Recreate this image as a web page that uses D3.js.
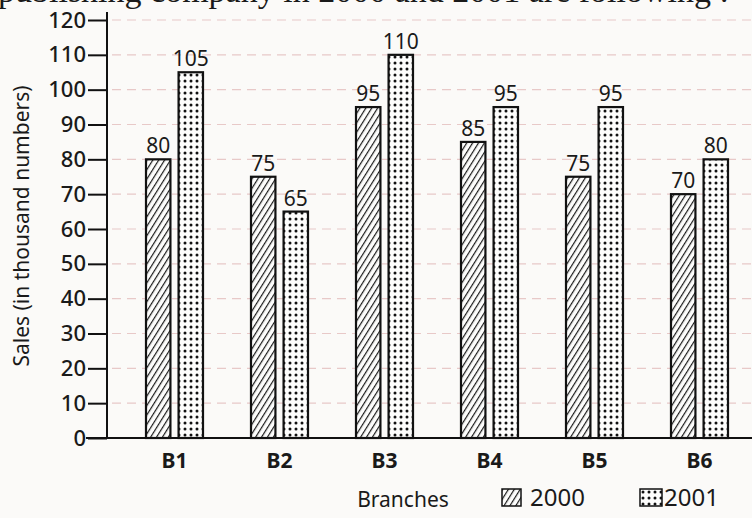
<!DOCTYPE html>
<html>
<head>
<meta charset="utf-8">
<script src="https://cdn.jsdelivr.net/npm/d3@7"></script>
<style>
  body { margin: 0; background: #fbfaf8; }
  svg { display: block; }
</style>
</head>
<body>
<div id="chart"></div>
<script>
// data
const branches = ["B1", "B2", "B3", "B4", "B5", "B6"];
const years = ["2000", "2001"];
const sales2000 = [80, 75, 95, 85, 75, 70];
const sales2001 = [105, 65, 110, 95, 95, 80];
const yTicks = [0, 10, 20, 30, 40, 50, 60, 70, 80, 90, 100, 110, 120];

const dataset = branches.map((b, i) => ({
  branch: b,
  values: [
    { year: "2000", value: sales2000[i] },
    { year: "2001", value: sales2001[i] },
  ],
}));

const drawChart = () => {
  let dimensions = {
    width: 752,
    height: 518,
    axisX: 107,
    baseY: 438,
    topY: 20,
  };

  const svg = d3
    .select("#chart")
    .append("svg")
    .attr("width", dimensions.width)
    .attr("height", dimensions.height);

  // patterns
  const defs = svg.append("defs");
  const hatch = defs
    .append("pattern")
    .attr("id", "hatch")
    .attr("patternUnits", "userSpaceOnUse")
    .attr("width", 5)
    .attr("height", 5)
    .attr("patternTransform", "rotate(32)");
  hatch.append("rect").attr("width", 5).attr("height", 5).attr("fill", "#fdfdfc");
  hatch
    .append("line")
    .attr("x1", 0)
    .attr("y1", 0)
    .attr("x2", 0)
    .attr("y2", 5)
    .attr("stroke", "#1a1a1a")
    .attr("stroke-width", 2.4);

  const dots = defs
    .append("pattern")
    .attr("id", "dots")
    .attr("patternUnits", "userSpaceOnUse")
    .attr("width", 6)
    .attr("height", 6);
  dots.append("rect").attr("width", 6).attr("height", 6).attr("fill", "#fdfdfc");
  dots
    .append("circle")
    .attr("cx", 3)
    .attr("cy", 3)
    .attr("r", 1.5)
    .attr("fill", "#111");

  const fillFor = { "2000": "url(#hatch)", "2001": "url(#dots)" };

  // clipped heading from the page
  svg
    .append("text")
    .attr("x", -2)
    .attr("y", 2)
    .attr("font-family", "Liberation Serif")
    .attr("font-size", 34)
    .attr("fill", "#1a1a1a")
    .text("publishing company in 2000 and 2001 are following :");

  // Scales
  const yScale = d3
    .scaleLinear()
    .domain([0, 120])
    .range([dimensions.baseY, dimensions.topY]);

  const xScale = d3
    .scaleBand()
    .domain(branches)
    .range([122, 752])
    .padding(0);

  const groupWidth = 57;
  const xInner = d3
    .scaleBand()
    .domain(years)
    .range([0, groupWidth])
    .paddingInner(0.25);

  // faint grid lines
  svg
    .append("g")
    .selectAll("line")
    .data(yTicks.filter((d) => d > 0))
    .join("line")
    .attr("x1", dimensions.axisX + 5)
    .attr("x2", dimensions.width)
    .attr("y1", (d) => yScale(d))
    .attr("y2", (d) => yScale(d))
    .attr("stroke", "#d69a9a")
    .attr("stroke-width", 1.2)
    .attr("stroke-dasharray", "9,6")
    .attr("opacity", 0.5);

  // Bars
  const groups = svg
    .append("g")
    .selectAll("g")
    .data(dataset)
    .join("g")
    .attr(
      "transform",
      (d) =>
        `translate(${xScale(d.branch) + (xScale.bandwidth() - groupWidth) / 2},0)`
    );

  groups
    .selectAll("rect")
    .data((d) => d.values)
    .join("rect")
    .attr("x", (d) => xInner(d.year))
    .attr("y", (d) => yScale(d.value))
    .attr("width", xInner.bandwidth())
    .attr("height", (d) => yScale(0) - yScale(d.value))
    .attr("fill", (d) => fillFor[d.year])
    .attr("stroke", "#111")
    .attr("stroke-width", 2.2);

  groups
    .selectAll("text")
    .data((d) => d.values)
    .join("text")
    .attr("x", (d) => xInner(d.year) + xInner.bandwidth() / 2)
    .attr("y", (d) => yScale(d.value) - 6)
    .attr("text-anchor", "middle")
    .attr("font-family", "Noto Sans")
    .attr("font-size", 21)
    .attr("fill", "#1a1a1a")
    .text((d) => d.value);

  // Axes
  const yAxis = d3
    .axisLeft(yScale)
    .tickValues(yTicks)
    .tickSize(19)
    .tickPadding(2);
  const yAxisGroup = svg
    .append("g")
    .attr("transform", `translate(${dimensions.axisX},0)`)
    .call(yAxis);
  yAxisGroup.select(".domain").remove();
  yAxisGroup.selectAll(".tick line").attr("stroke", "#111").attr("stroke-width", 2);
  yAxisGroup
    .selectAll(".tick text")
    .attr("font-family", "Noto Sans")
    .attr("font-weight", 500)
    .attr("font-size", 22)
    .attr("fill", "#1a1a1a");
  yAxisGroup
    .append("line")
    .attr("x1", 0)
    .attr("x2", 0)
    .attr("y1", 12)
    .attr("y2", dimensions.baseY)
    .attr("stroke", "#111")
    .attr("stroke-width", 2);

  const xAxis = d3.axisBottom(xScale).tickSize(0).tickPadding(15);
  const xAxisGroup = svg
    .append("g")
    .attr("transform", `translate(0,${dimensions.baseY})`)
    .call(xAxis);
  xAxisGroup.select(".domain").remove();
  xAxisGroup
    .selectAll(".tick text")
    .attr("font-family", "Noto Sans")
    .attr("font-weight", "bold")
    .attr("font-size", 21)
    .attr("fill", "#1a1a1a");
  xAxisGroup
    .append("line")
    .attr("x1", 86)
    .attr("x2", dimensions.width)
    .attr("y1", 0)
    .attr("y2", 0)
    .attr("stroke", "#111")
    .attr("stroke-width", 2);

  // axis titles
  svg
    .append("text")
    .attr("transform", "translate(29,226) rotate(-90)")
    .attr("text-anchor", "middle")
    .attr("font-family", "Noto Sans")
    .attr("font-size", 21)
    .attr("fill", "#1a1a1a")
    .text("Sales (in thousand numbers)");

  svg
    .append("text")
    .attr("x", 403)
    .attr("y", 507)
    .attr("text-anchor", "middle")
    .attr("font-family", "Noto Sans")
    .attr("font-size", 21)
    .attr("fill", "#1a1a1a")
    .text("Branches");

  // legend
  const legend = svg
    .append("g")
    .selectAll("g")
    .data(years)
    .join("g")
    .attr("transform", (d, i) => `translate(${502 + i * 138},489)`);
  legend
    .append("rect")
    .attr("width", (d, i) => (i == 0 ? 19 : 22))
    .attr("height", 17)
    .attr("fill", (d) => fillFor[d])
    .attr("stroke", "#111")
    .attr("stroke-width", 1.5);
  legend
    .append("text")
    .attr("x", (d, i) => (i == 0 ? 28 : 24))
    .attr("y", 17)
    .attr("font-family", "Noto Sans")
    .attr("font-size", 24)
    .attr("fill", "#1a1a1a")
    .text((d) => d);
};

drawChart();
</script>
</body>
</html>
